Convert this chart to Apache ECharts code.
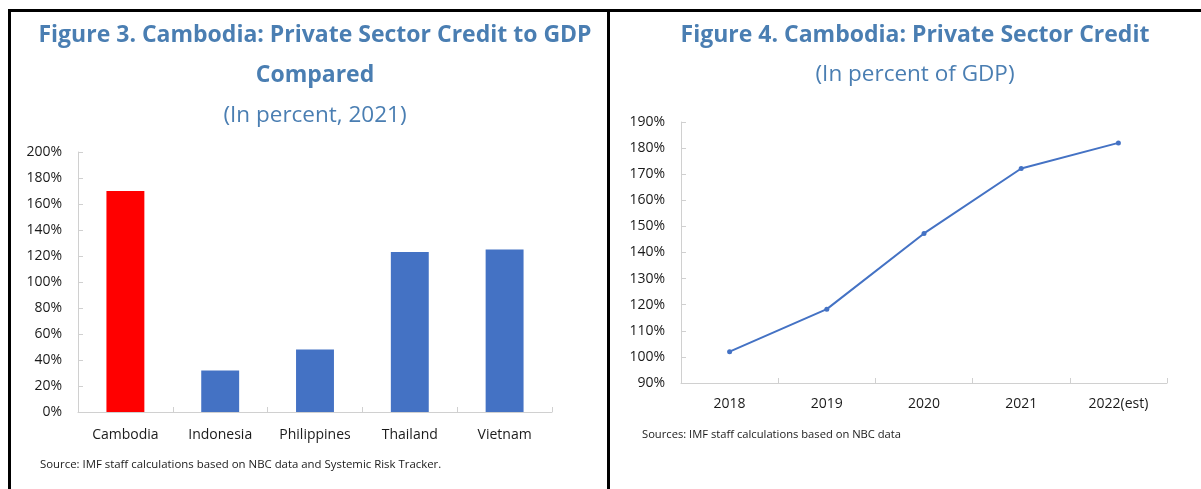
<!DOCTYPE html>
<html>
<head>
<meta charset="utf-8">
<script src="https://cdn.jsdelivr.net/npm/echarts@6/dist/echarts.min.js"></script>
<style>
html,body{margin:0;padding:0;background:#fff;}
#c{width:1201px;height:489px;}
</style>
</head>
<body>
<div id="c"></div>
<script>
// Figure 3 data
const countries = ['Cambodia', 'Indonesia', 'Philippines', 'Thailand', 'Vietnam'];
const creditToGdp2021 = [170, 32, 48, 123, 125];
const barColors = ['#FF0000', '#4472C4', '#4472C4', '#4472C4', '#4472C4'];
// Figure 4 data
const years = ['2018', '2019', '2020', '2021', '2022(est)'];
const cambodiaCredit = [102, 118.3, 147.3, 172.2, 182];

const titleColor = '#4A7EB2';
const fontFam = '"Open Sans", "Noto Sans", sans-serif';
const axisGray = '#D0D0D0';
const labelColor = '#1a1a1a';

const chart = echarts.init(document.getElementById('c'), null, {renderer: 'canvas'});
chart.setOption({
  backgroundColor: '#ffffff',
  animation: false,
  title: [
    {
      text: 'Figure 3. Cambodia: Private Sector Credit to GDP\nCompared',
      subtext: '(In percent, 2021)',
      left: 310, top: 10, textAlign: 'center', itemGap: 1,
      textStyle: {color: titleColor, fontFamily: fontFam, fontWeight: 'bold', fontSize: 23, lineHeight: 40},
      subtextStyle: {color: titleColor, fontFamily: fontFam, fontWeight: 'normal', fontSize: 22.5, lineHeight: 40}
    },
    {
      text: 'Figure 4. Cambodia: Private Sector Credit',
      subtext: '(In percent of GDP)',
      left: 910, top: 10, textAlign: 'center', itemGap: 0,
      textStyle: {color: titleColor, fontFamily: fontFam, fontWeight: 'bold', fontSize: 23, lineHeight: 40},
      subtextStyle: {color: titleColor, fontFamily: fontFam, fontWeight: 'normal', fontSize: 22.5, lineHeight: 40}
    }
  ],
  grid: [
    {left: 78, right: 649, top: 152, bottom: 77},
    {left: 681, right: 34, top: 122, bottom: 106}
  ],
  xAxis: [
    {
      gridIndex: 0, type: 'category', data: countries,
      axisLine: {lineStyle: {color: axisGray, width: 1}},
      axisTick: {show: true, inside: true, length: 5, lineStyle: {color: axisGray}},
      axisLabel: {color: labelColor, fontFamily: fontFam, fontSize: 14, margin: 16}
    },
    {
      gridIndex: 1, type: 'category', data: years,
      axisLine: {lineStyle: {color: axisGray, width: 1}},
      axisTick: {show: true, inside: true, length: 5, lineStyle: {color: axisGray}},
      axisLabel: {color: labelColor, fontFamily: fontFam, fontSize: 14, margin: 14}
    }
  ],
  yAxis: [
    {
      gridIndex: 0, type: 'value', min: 0, max: 200, interval: 20,
      axisLine: {show: true, lineStyle: {color: axisGray, width: 1}},
      axisTick: {show: true, inside: true, length: 5, lineStyle: {color: axisGray}},
      splitLine: {show: false},
      axisLabel: {formatter: '{value}%', color: labelColor, fontFamily: fontFam, fontSize: 14, margin: 16}
    },
    {
      gridIndex: 1, type: 'value', min: 90, max: 190, interval: 10,
      axisLine: {show: true, lineStyle: {color: axisGray, width: 1}},
      axisTick: {show: true, inside: true, length: 5, lineStyle: {color: axisGray}},
      splitLine: {show: false},
      axisLabel: {formatter: '{value}%', color: labelColor, fontFamily: fontFam, fontSize: 14, margin: 16}
    }
  ],
  series: [
    {
      type: 'bar', xAxisIndex: 0, yAxisIndex: 0, barWidth: '40%',
      data: creditToGdp2021.map((v, i) => ({value: v, itemStyle: {color: barColors[i]}}))
    },
    {
      type: 'line', xAxisIndex: 1, yAxisIndex: 1, data: cambodiaCredit,
      symbol: 'circle', symbolSize: 5, showSymbol: true,
      lineStyle: {color: '#4472C4', width: 2},
      itemStyle: {color: '#4472C4'}
    }
  ],
  graphic: [
    {type: 'rect', shape: {x: 8, y: 9, width: 3, height: 480}, style: {fill: '#000'}, silent: true},
    {type: 'rect', shape: {x: 8, y: 9, width: 1193, height: 3}, style: {fill: '#000'}, silent: true},
    {type: 'rect', shape: {x: 607, y: 9, width: 3, height: 480}, style: {fill: '#000'}, silent: true},
    {type: 'text', left: 40, top: 459,
     style: {text: 'Source: IMF staff calculations based on NBC data and Systemic Risk Tracker.', fill: '#1a1a1a', font: '11.4px "Open Sans", sans-serif'}},
    {type: 'text', left: 642, top: 429,
     style: {text: 'Sources: IMF staff calculations based on NBC data', fill: '#1a1a1a', font: '11.2px "Open Sans", sans-serif'}}
  ]
});
</script>
</body>
</html>
